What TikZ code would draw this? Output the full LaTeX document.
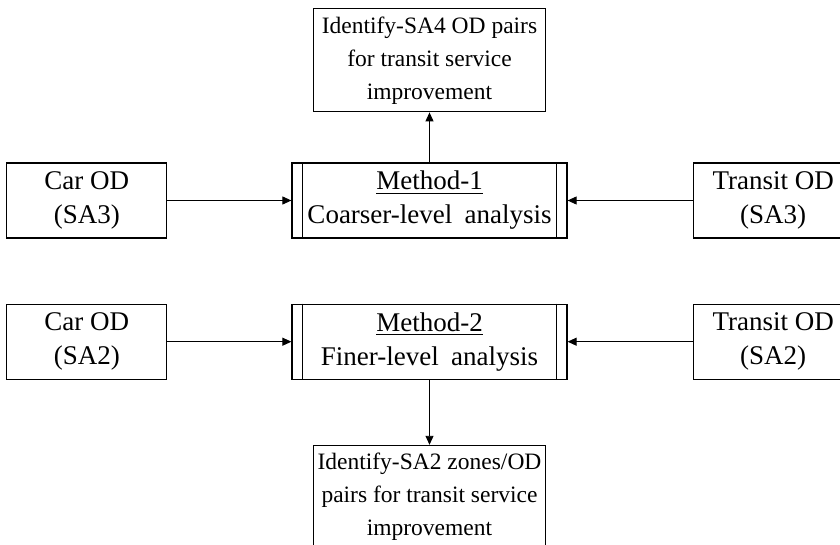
\documentclass[tikz,border=0pt]{standalone}
\usepackage{fontspec}
\setmainfont{Liberation Serif}
\usetikzlibrary{arrows.meta}

\begin{document}
\begin{tikzpicture}
	\tikzstyle{mybox}=[draw=black, line width=0.6pt, align=center, inner sep=0pt, minimum height=37.5pt, minimum width=80pt, font=\fontsize{13.5pt}{17pt}\selectfont]
	\tikzstyle{mymethod}=[mybox, minimum width=137.5pt]
	\tikzstyle{mygoal}=[mybox, minimum width=116pt, minimum height=51.5pt, font=\fontsize{11.75pt}{16.5pt}\selectfont]

	\tikzstyle{myarrow}=[->, line width=0.45pt, >={Triangle[length=4.5pt,width=4pt]}]

	\useasboundingbox (0,0) rectangle (420pt,-272.5pt);

	\node[mymethod] (method1) at (214.75pt,-100.25pt) {\underline{Method-1}\\Coarser-level\hspace{0.45em}analysis};
	\node[mybox, anchor=east] (car3) at ([xshift=-62pt] method1.west) {Car OD\\(SA3)};
	\node[mybox, anchor=west] (transit3) at ([xshift=62.5pt] method1.east) {Transit OD\\(SA3)};
	\node[mygoal, anchor=south] (goal4) at ([yshift=25pt] method1.north) {Identify-SA4 OD pairs\\for transit service\\improvement};

	\node[mymethod, anchor=north] (method2) at ([yshift=-32.5pt] method1.south) {\underline{Method-2}\\Finer-level\hspace{0.45em}analysis};
	\node[mybox, anchor=east] (car2) at ([xshift=-62pt] method2.west) {Car OD\\(SA2)};
	\node[mybox, anchor=west] (transit2) at ([xshift=62.5pt] method2.east) {Transit OD\\(SA2)};
	\node[mygoal, anchor=north] (goal2) at ([yshift=-32.5pt] method2.south) {Identify-SA2 zones/OD\\pairs for transit service\\improvement};

	% inner side lines of the method boxes
	\foreach \m in {method1,method2} {
		\draw[line width=0.6pt] ([xshift=5.5pt] \m.north west) -- ([xshift=5.5pt] \m.south west);
		\draw[line width=0.6pt] ([xshift=-5.5pt] \m.north east) -- ([xshift=-5.5pt] \m.south east);
	}

	\draw[myarrow] (car3) -- (method1);
	\draw[myarrow] (transit3) -- (method1);
	\draw[myarrow] (method1) -- (goal4);

	\draw[myarrow] (car2) -- (method2);
	\draw[myarrow] (transit2) -- (method2);
	\draw[myarrow] (method2) -- (goal2);
\end{tikzpicture}
\end{document}
